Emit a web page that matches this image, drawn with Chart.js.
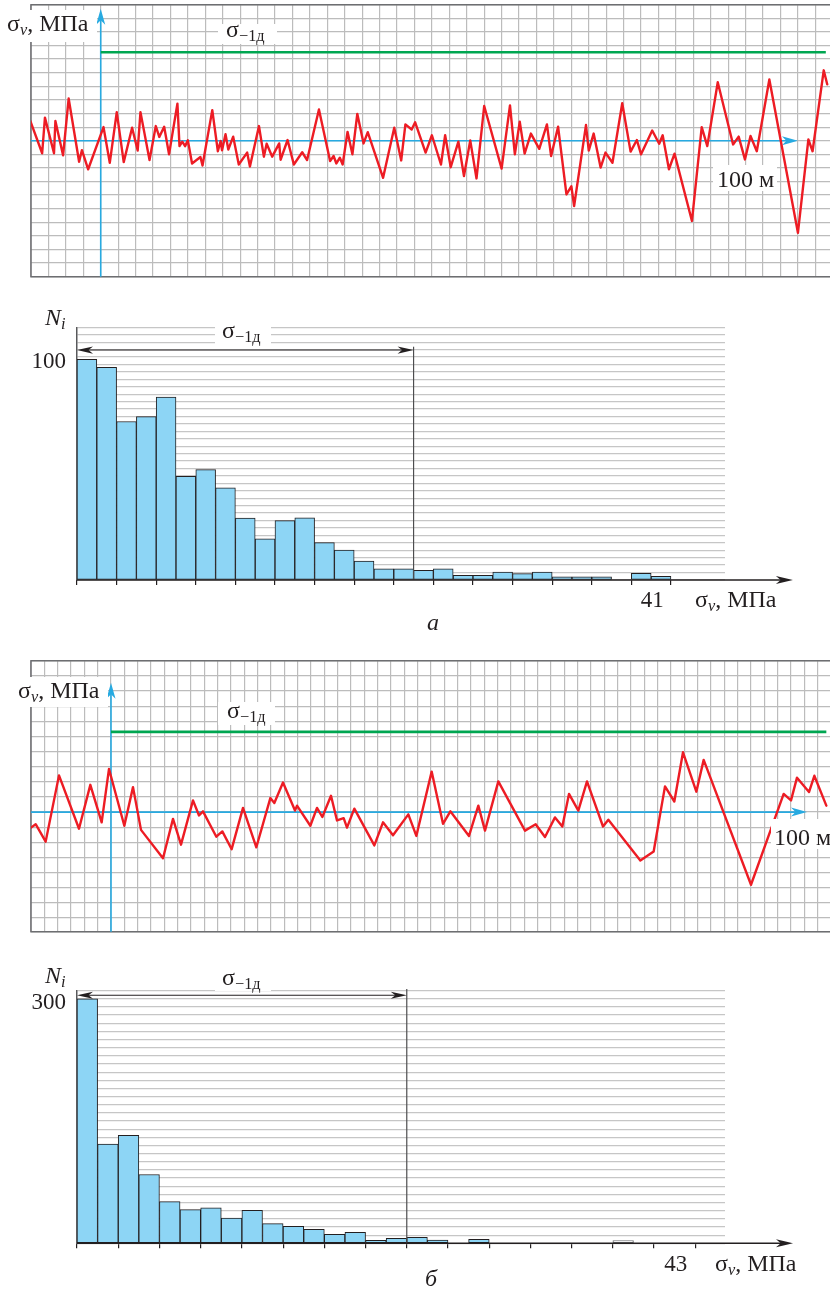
<!DOCTYPE html>
<html lang="ru"><head><meta charset="utf-8"><title>σv</title>
<script src="https://cdn.jsdelivr.net/npm/chart.js@4.4.1/dist/chart.umd.min.js"></script>
<style>
html,body{margin:0;padding:0;background:#fff}
body{position:relative;width:830px;height:1291px;overflow:hidden;font-family:"Liberation Serif","Times New Roman",serif;color:#231f20}
.pane{position:absolute;left:0;width:830px}
.bg{position:absolute;background:#fff}
.t{position:absolute;white-space:nowrap;line-height:1}
.s{font-size:0.68em;position:relative;top:0.28em}
</style></head><body>
<div class="pane" style="top:0;height:290px"><canvas id="cA"></canvas></div>
<div class="pane" style="top:290px;height:350px"><canvas id="hA"></canvas></div>
<div class="pane" style="top:650px;height:290px"><canvas id="cB"></canvas></div>
<div class="pane" style="top:940px;height:351px"><canvas id="hB"></canvas></div>
<script>
// ---------- data ----------
// panel а : stress record, distance (m) and stress (MPa)
const topDist = [-10.1,-8.4,-8.0,-6.7,-6.5,-5.4,-4.6,-3.1,-2.7,-1.8,
 0.4,1.3,2.3,3.3,4.5,5.3,5.7,7.0,7.9,8.4,
 9.1,9.8,11.0,11.3,11.7,12.1,12.5,13.1,14.3,14.6,
 16.0,16.8,17.2,17.4,17.9,18.3,19.0,19.8,21.0,21.4,
 22.7,23.4,23.8,24.6,25.6,25.8,26.8,27.7,28.9,29.6,
 31.3,32.9,33.4,33.8,34.3,34.7,35.4,36.1,36.8,37.7,
 38.3,40.5,42.1,43.1,43.7,44.6,45.1,46.6,47.5,48.8,
 49.4,50.2,51.3,52.1,53.0,53.9,55.0,57.5,58.7,59.4,
 60.1,60.8,61.7,62.9,64.0,64.6,65.6,66.8,67.5,67.9,
 69.6,70.0,70.7,71.7,72.4,73.4,74.8,76.0,76.9,77.5,
 79.1,80.1,80.6,81.5,82.3,84.8,86.2,87.0,88.5,90.7,
 91.5,92.4,93.2,94.1,95.9,100.0,101.5,102.1,103.7,104.2];
const topStress = [5.8,-3.7,6.8,-3.7,5.8,-4.3,12.4,-6.2,-2.8,-8.4,
 4.0,-6.5,8.4,-6.3,3.8,-2.9,8.4,-5.7,4.3,1.1,
 4.1,-4.0,10.9,-1.6,-0.3,-1.6,0.1,-6.7,-4.8,-7.3,
 9.0,-3.1,-0.1,-2.8,1.9,-2.6,1.2,-7.0,-3.5,-7.6,
 4.3,-4.7,-0.9,-4.7,-0.8,-5.6,0.2,-7.0,-3.4,-5.7,
 9.2,-6.0,-4.5,-6.7,-5.0,-7.0,2.6,-4.0,7.9,-0.8,
 2.5,-10.9,3.8,-5.8,4.8,3.3,5.4,-3.5,1.6,-7.0,
 1.6,-7.8,-0.3,-10.4,0.1,-11.1,10.2,-8.2,10.4,-4.0,
 5.6,-3.8,2.1,-2.4,4.8,-4.5,4.1,-15.8,-13.4,-19.2,
 4.6,-2.9,2.1,-7.9,-3.5,-6.5,11.0,-3.2,0.2,-4.0,
 3.0,-0.9,1.6,-8.4,-3.8,-23.6,4.0,-1.6,17.2,-1.1,
 1.2,-5.5,1.4,-3.1,18.0,-27.1,0.4,-3.1,20.7,16.6];
const topLimitDist = [0, 104];
const topLimit = [26, 26];

// panel б : stress record
const botDist = [-12.0,-11.3,-9.8,-7.8,-4.8,-3.1,-1.4,-0.3,2.0,3.3,
 4.5,7.8,9.3,10.5,12.3,13.2,13.8,15.8,16.7,18.1,
 19.8,21.8,23.9,24.5,25.8,27.6,27.9,29.9,30.9,31.7,
 33.0,33.9,34.9,35.4,36.5,39.5,40.8,42.3,44.6,45.8,
 48.1,49.8,50.9,53.7,55.1,56.1,58.1,62.1,63.7,65.1,
 66.6,67.7,68.7,70.1,71.4,73.8,74.6,79.4,81.4,83.1,
 84.5,85.8,87.8,88.9,96.0,100.9,102.0,102.9,104.7,105.5,
 107.3];
const botStress = [-4.1,-3.2,-7.8,9.7,-4.4,7.2,-2.7,11.4,-3.6,6.6,
 -4.7,-12.2,-1.8,-8.6,3.1,-0.9,0.2,-6.5,-5.1,-9.8,
 1.1,-9.3,3.7,2.4,7.8,0.4,1.7,-3.6,1.1,-1.3,
 4.3,-2.2,-1.6,-4.1,0.9,-8.8,-2.7,-6.1,-0.6,-6.3,
 10.7,-3.1,0.2,-6.3,1.7,-4.9,8.1,-4.9,-3.2,-6.6,
 -1.4,-3.8,4.8,0.4,8.1,-3.8,-2.0,-12.8,-10.4,6.8,
 2.8,15.8,5.4,13.8,-19.2,4.8,3.1,9.1,5.3,9.6,
 1.7];
const botLimitDist = [0, 107.3];
const botLimit = [21.2, 21.2];

// histograms: number of cycles N_i per stress bin
const histA = [100,96.4,71.8,74.0,82.9,47.0,50.0,41.8,28.1,18.7,
 26.9,28.2,16.9,13.6,8.6,5.1,5.1,4.4,5.1,2.1,
 2.1,3.6,2.9,3.6,1.4,1.4,1.4,0,3.0,1.7];
const histB = [300,121.7,132.4,84.4,51.2,41.4,43.4,31.1,40.6,24.2,
 20.9,17.2,11.1,13.5,3.7,6.1,7.4,4.1,0,4.9,
 0,0,0,0,0,0,3.3];
const histBOpenBins = [26];
const histALimitBin = 17, histBLimitBin = 16;

// tick labels
const histAYTicks = [100], histAYLabels = ['100'];
const histAXTicks = [29],  histAXLabels = ['41'];
const histBYTicks = [300], histBYLabels = ['300'];
const histBXTicks = [29],  histBXLabels = ['43'];

// texts
const stressLabel = 'σ<span class="s"><i>v</i></span>, МПа';
const limitLabel = 'σ<span class="s">−1д</span>';
const countLabel = '<i>N<span class="s">i</span></i>';
const distLabel = '100 м';
const panelLabels = ['а', 'б'];

// ---------- helpers ----------
function steps(a, b, st){ const r=[]; for(let v=a; v<=b+1e-9; v+=st) r.push(+v.toFixed(4)); return r; }
function arrowHead(ctx, x, y, dir, len, half){
  ctx.beginPath();
  if(dir==='r'){ ctx.moveTo(x,y); ctx.lineTo(x-len,y-half); ctx.lineTo(x-len*0.72,y); ctx.lineTo(x-len,y+half); }
  else if(dir==='l'){ ctx.moveTo(x,y); ctx.lineTo(x+len,y-half); ctx.lineTo(x+len*0.72,y); ctx.lineTo(x+len,y+half); }
  else { ctx.moveTo(x,y); ctx.lineTo(x-half,y+len); ctx.lineTo(x,y+len*0.72); ctx.lineTo(x+half,y+len); }
  ctx.closePath(); ctx.fill();
}

const lineDecor = {
  id:'lineDecor',
  beforeDatasetsDraw(chart, args, o){
    const {ctx, chartArea:a, scales:{x,y}} = chart;
    ctx.save();
    ctx.strokeStyle='#6d6e71'; ctx.lineWidth=1.5;
    ctx.beginPath(); ctx.moveTo(a.right,a.top); ctx.lineTo(a.left,a.top); ctx.lineTo(a.left,a.bottom); ctx.lineTo(a.right,a.bottom); ctx.stroke();
    const x0=x.getPixelForValue(0), y0=y.getPixelForValue(0);
    const xe=x.getPixelForValue(o.xEnd), ye=y.getPixelForValue(o.yEnd);
    ctx.strokeStyle=ctx.fillStyle='#27aae1'; ctx.lineWidth=1.6;
    ctx.beginPath(); ctx.moveTo(a.left,y0); ctx.lineTo(xe-8,y0); ctx.stroke();
    arrowHead(ctx,xe,y0,'r',16,4.5);
    ctx.beginPath(); ctx.moveTo(x0,a.bottom); ctx.lineTo(x0,ye+8); ctx.stroke();
    arrowHead(ctx,x0,ye,'u',16,4.5);
    ctx.restore();
  }
};

const histDecor = {
  id:'histDecor',
  afterDatasetsDraw(chart, args, o){
    const {ctx, scales:{x,y}} = chart;
    ctx.save();
    const yb=y.getPixelForValue(0), xs=x.getPixelForValue(0);
    const xl=x.getPixelForValue(o.limit);
    ctx.strokeStyle='#4d4d4f'; ctx.lineWidth=1.2;
    ctx.beginPath(); ctx.moveTo(xl,yb); ctx.lineTo(xl,y.getPixelForValue(o.limitTop)); ctx.stroke();
    ctx.strokeStyle=ctx.fillStyle='#231f20';
    ctx.lineWidth=1.6;
    const xe=x.getPixelForValue(o.axisEnd);
    ctx.beginPath(); ctx.moveTo(xs,yb); ctx.lineTo(xe-10,yb); ctx.stroke();
    arrowHead(ctx,xe,yb,'r',17,4);
    const yd=y.getPixelForValue(o.dimY);
    ctx.lineWidth=1.1;
    ctx.beginPath(); ctx.moveTo(xs+8,yd); ctx.lineTo(xl-8,yd); ctx.stroke();
    arrowHead(ctx,xs,yd,'l',16,3.6);
    arrowHead(ctx,xl,yd,'r',16,3.6);
    ctx.restore();
  }
};

function makeLine(id, dist, stress, limDist, lim, g){
  return new Chart(document.getElementById(id), {
    type:'line',
    data:{datasets:[
      {data:dist.map((d,i)=>({x:d,y:stress[i]})), borderColor:'#ed1c24', borderWidth:2.4, pointRadius:0, tension:0, borderJoinStyle:'round', borderCapStyle:'round'},
      {data:limDist.map((d,i)=>({x:d,y:lim[i]})), borderColor:'#00a651', borderWidth:2.6, pointRadius:0, tension:0}
    ]},
    options:{
      responsive:true, maintainAspectRatio:false, animation:false, events:[],
      layout:{padding:g.pad},
      plugins:{legend:{display:false}, tooltip:{enabled:false}, lineDecor:{xEnd:g.xEnd, yEnd:g.yEnd}},
      scales:{
        x:{type:'linear', min:g.xMin, max:g.xMax, afterBuildTicks:s=>{s.ticks=g.xGrid.map(v=>({value:v}));},
           ticks:{display:false}, grid:{color:'#bcbcbc', lineWidth:1.2, drawTicks:false}, border:{display:false}},
        y:{type:'linear', min:g.yMin, max:g.yMax, afterBuildTicks:s=>{s.ticks=g.yGrid.map(v=>({value:v}));},
           ticks:{display:false}, grid:{color:'#bcbcbc', lineWidth:1.2, drawTicks:false}, border:{display:false}}
      }
    },
    plugins:[lineDecor]
  });
}

function makeHist(id, vals, open, g){
  return new Chart(document.getElementById(id), {
    type:'bar',
    data:{datasets:[{
      data:vals.map((v,i)=>({x:i+0.5,y:v})),
      backgroundColor:vals.map((v,i)=>open.includes(i)?'#f7f7f7':'#8dd5f5'),
      borderColor:vals.map((v,i)=>open.includes(i)?'#6d6e71':'#231f20'),
      borderWidth:1, borderSkipped:false, barPercentage:1, categoryPercentage:1
    }]},
    options:{
      responsive:true, maintainAspectRatio:false, animation:false, events:[],
      layout:{padding:g.pad},
      plugins:{legend:{display:false}, tooltip:{enabled:false}, histDecor:g.decor},
      scales:{
        x:{type:'linear', offset:false, min:0, max:g.xMax, afterBuildTicks:s=>{s.ticks=g.xTicks.map(v=>({value:v}));},
           ticks:{display:false}, grid:{offset:false, drawOnChartArea:false, drawTicks:true, tickLength:5, color:'#231f20', lineWidth:1.2}, border:{display:false}},
        y:{type:'linear', min:0, max:g.yMax, afterBuildTicks:s=>{s.ticks=g.yGrid.map(v=>({value:v}));},
           ticks:{display:false}, grid:{color:'#c6c6c6', lineWidth:1.3, drawTicks:false}, border:{display:true, color:'#58595b', width:1.5}}
      }
    },
    plugins:[histDecor]
  });
}

// ---------- charts ----------
const chA = makeLine('cA', topDist, topStress, topLimitDist, topLimit, {
  pad:{left:31, right:0, top:4.7, bottom:13.3}, xMin:-10, xMax:104.6, yMin:-40, yMax:40,
  xGrid:steps(-10,104.6,2.5), yGrid:steps(-40,40,4), xEnd:100, yEnd:38.8});
const chB = makeLine('cB', botDist, botStress, botLimitDist, botLimit, {
  pad:{left:31, right:0, top:10.7, bottom:8.3}, xMin:-12, xMax:107.85, yMin:-31.6, yMax:40,
  xGrid:steps(-12,107.85,2), yGrid:steps(-28,40,4).concat([-31.6]), xEnd:104.4, yEnd:34.2});

const yMaxA = 114.5;
const hA = makeHist('hA', histA, [], {
  pad:{left:77, right:105, top:37.3, bottom:55}, xMax:32.73, yMax:yMaxA,
  xTicks:steps(0,30,2), yGrid:steps(0,34,1).map(k=>k*yMaxA/34),
  decor:{limit:histALimitBin, limitTop:105.7, dimY:104.2, axisEnd:36.16}});
const hB = makeHist('hB', histB, histBOpenBins, {
  pad:{left:77, right:105, top:50.7, bottom:42.7}, xMax:31.44, yMax:310,
  xTicks:steps(0,30,2), yGrid:steps(0,310,10),
  decor:{limit:histBLimitBin, limitTop:312, dimY:304.4, axisEnd:34.74}});

// ---------- texts ----------
function addText(html, size, x, base, align, bg, italic){
  if(bg){ const b=document.createElement('div'); b.className='bg';
    Object.assign(b.style,{left:bg[0]+'px',top:bg[1]+'px',width:bg[2]+'px',height:bg[3]+'px'}); document.body.appendChild(b); }
  const d=document.createElement('div'); d.className='t'; d.innerHTML=html;
  d.style.fontSize=size+'px'; if(italic) d.style.fontStyle='italic';
  d.style.top=(base-0.8375*size)+'px';
  document.body.appendChild(d);
  const w=d.getBoundingClientRect().width;
  d.style.left=(align==='right'?x-w:align==='center'?x-w/2:x)+'px';
}
// panel а
addText(stressLabel, 24, 7, 31, 'left', [0,10,97,32]);
addText(limitLabel, 24, 226, 37, 'left', [218,24,59,20]);
addText(distLabel, 24, 717, 187, 'left', [713,165,64,26]);
addText(countLabel, 24, 45, 325, 'left');
histAYTicks.forEach((v,i)=>addText(histAYLabels[i], 23, 66, 290+hA.scales.y.getPixelForValue(v)+9, 'right'));
histAXTicks.forEach((v,i)=>addText(histAXLabels[i], 23, hA.scales.x.getPixelForValue(v)+1, 607, 'center'));
addText(limitLabel, 24, 222, 338, 'left', [215,326,56,18]);
addText(stressLabel, 24, 695, 607, 'left');
addText(panelLabels[0], 24, 427, 630, 'left', null, true);
// panel б
addText(stressLabel, 24, 18, 698, 'left', [0,677,108,30]);
addText(limitLabel, 24, 227, 718, 'left', [218,702,57,23]);
addText(distLabel, 24, 774, 845, 'left', [771,819,59,30]);
addText(countLabel, 24, 45, 983, 'left');
histBYTicks.forEach((v,i)=>addText(histBYLabels[i], 23, 66, 940+hB.scales.y.getPixelForValue(v)+10, 'right'));
histBXTicks.forEach((v,i)=>addText(histBXLabels[i], 23, hB.scales.x.getPixelForValue(v)+1, 1271, 'center'));
addText(limitLabel, 24, 222, 985, 'left', [215,970,56,21]);
addText(stressLabel, 24, 715, 1271, 'left');
addText(panelLabels[1], 24, 425, 1286, 'left', null, true);
</script></body></html>
